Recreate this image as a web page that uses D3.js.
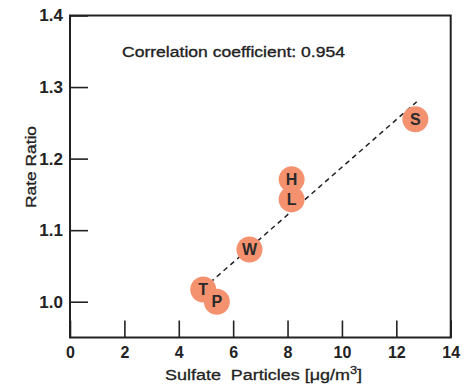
<!DOCTYPE html>
<html>
<head>
<meta charset="utf-8">
<script src="https://cdn.jsdelivr.net/npm/d3@7"></script>
<style>
  html, body { margin: 0; padding: 0; background: #fff; }
  svg { display: block; font-family: "Liberation Sans", Arial, Helvetica, sans-serif; }
</style>
</head>
<body>
<svg id="chart" width="472" height="385"></svg>
<script>
// Site codes and their measurements
const sites = ["T", "P", "W", "L", "H", "S"];
const sulfate = [4.9, 5.4, 6.6, 8.15, 8.15, 12.7];
const rateRatio = [1.017, 1.000, 1.073, 1.143, 1.171, 1.255];

// Axis ticks
const xTicks = [0, 2, 4, 6, 8, 10, 12, 14];
const yTicks = [1.0, 1.1, 1.2, 1.3, 1.4];

const corrLabel = "Correlation coefficient: 0.954";

const svg = d3.select("#chart");
const ink = "#222";

const x = d3.scaleLinear().domain([0, 14]).range([70, 450.7]);
const y = d3.scaleLinear().domain([0.95, 1.4]).range([337.5, 15.5]);

// Frame
svg.append("rect")
  .attr("x", x(0)).attr("y", y(1.4))
  .attr("width", x(14) - x(0)).attr("height", y(0.95) - y(1.4))
  .attr("fill", "none").attr("stroke", ink).attr("stroke-width", 2);

// Axes with inward ticks
const xAxis = svg.append("g")
  .attr("transform", `translate(0,${y(0.95)})`)
  .call(d3.axisBottom(x).tickValues(xTicks).tickSize(-17).tickPadding(9).tickFormat(d3.format("d")));
const yAxis = svg.append("g")
  .attr("transform", `translate(${x(0)},0)`)
  .call(d3.axisLeft(y).tickValues(yTicks).tickSize(-18).tickPadding(7).tickFormat(d3.format(".1f")));

[xAxis, yAxis].forEach(g => {
  g.select(".domain").remove();
  g.selectAll(".tick line").attr("stroke", ink).attr("stroke-width", 1.6);
  g.selectAll(".tick text")
    .attr("fill", ink)
    .style("font-size", "16px")
    .style("font-weight", "bold")
    .style("font-family", "'Liberation Sans', Arial, sans-serif");
});
yAxis.selectAll(".tick text").style("font-size", "17px");

// Least-squares fit through the sites
const mx = d3.mean(sulfate), my = d3.mean(rateRatio);
const sxy = d3.sum(sulfate, (v, i) => (v - mx) * (rateRatio[i] - my));
const sxx = d3.sum(sulfate, v => (v - mx) * (v - mx));
const slope = sxy / sxx, intercept = my - slope * mx;
const [x0, x1] = d3.extent(sulfate);

svg.append("line")
  .attr("x1", x(x0)).attr("y1", y(intercept + slope * x0))
  .attr("x2", x(x1 + 0.05)).attr("y2", y(intercept + slope * (x1 + 0.05)))
  .attr("stroke", ink).attr("stroke-width", 1.5)
  .attr("stroke-dasharray", "5,4");

// Site markers
const pts = sites.map((s, i) => ({ s, x: sulfate[i], y: rateRatio[i] }));
svg.append("g").selectAll("circle").data(pts).join("circle")
  .attr("cx", d => x(d.x)).attr("cy", d => y(d.y)).attr("r", 13)
  .attr("fill", "#f4926f");
svg.append("g").selectAll("text").data(pts).join("text")
  .attr("x", d => x(d.x)).attr("y", d => y(d.y))
  .attr("dy", "0.36em")
  .attr("text-anchor", "middle")
  .attr("fill", "#2a2a2a")
  .style("font-size", "16px")
  .style("font-weight", "bold")
  .text(d => d.s);

// Correlation annotation
svg.append("text")
  .attr("x", 122).attr("y", 56.5)
  .attr("textLength", 223).attr("lengthAdjust", "spacingAndGlyphs")
  .attr("fill", ink)
  .attr("stroke", ink).attr("stroke-width", 0.35)
  .style("font-size", "15.5px")
  .text(corrLabel);

// Axis titles
svg.append("text")
  .attr("transform", "translate(36,167) rotate(-90)")
  .attr("text-anchor", "middle")
  .attr("textLength", 82).attr("lengthAdjust", "spacingAndGlyphs")
  .attr("fill", ink)
  .attr("stroke", ink).attr("stroke-width", 0.3)
  .style("font-size", "14px")
  .text("Rate Ratio");

const xt = svg.append("text")
  .attr("x", 165).attr("y", 380)
  .attr("textLength", 197).attr("lengthAdjust", "spacingAndGlyphs")
  .attr("fill", ink)
  .attr("stroke", ink).attr("stroke-width", 0.3)
  .style("font-size", "15.5px")
  .style("white-space", "pre");
xt.append("tspan").text("Sulfate\u00a0\u00a0Particles [\u03bcg/m");
xt.append("tspan").attr("dy", -6).style("font-size", "11px").text("3");
xt.append("tspan").attr("dy", 6).text("]");
</script>
</body>
</html>
